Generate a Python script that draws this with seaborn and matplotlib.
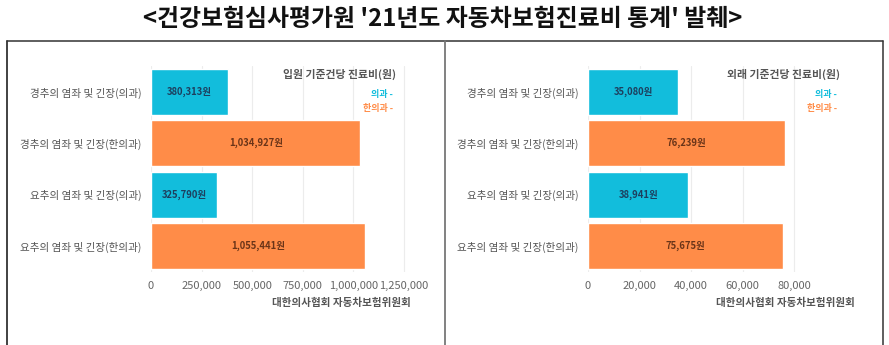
import matplotlib
matplotlib.use("Agg")
import matplotlib.pyplot as plt
import seaborn as sns
import pandas as pd
from matplotlib.lines import Line2D
from matplotlib.ticker import FuncFormatter

sns.set_theme(style="white")
plt.rcParams['font.family'] = ['Noto Sans CJK KR', 'DejaVu Sans']

# ---- data ----
categories = ["경추의 염좌 및 긴장(의과)", "경추의 염좌 및 긴장(한의과)",
              "요추의 염좌 및 긴장(의과)", "요추의 염좌 및 긴장(한의과)"]
types = ["의과", "한의과", "의과", "한의과"]
inpatient = [380313, 1034927, 325790, 1055441]
outpatient = [35080, 76239, 38941, 75675]
in_ticks = [0, 250000, 500000, 750000, 1000000, 1250000]
out_ticks = [0, 20000, 40000, 60000, 80000]
main_title = "<건강보험심사평가원 '21년도 자동차보험진료비 통계' 발췌>"
in_title = "입원 기준건당 진료비(원)"
out_title = "외래 기준건당 진료비(원)"
legend_labels = ["의과 -", "한의과 -"]
source = "대한의사협회 자동차보험위원회"

CYAN = "#12BDDC"
ORANGE = "#FF8C48"
palette = {"의과": CYAN, "한의과": ORANGE}
label_colors = {"의과": "#1d3f5e", "한의과": "#6a3418"}

W, H = 889, 345
fig = plt.figure(figsize=(W / 100, H / 100), dpi=100)
fig.patch.set_facecolor("white")


def px_axes(x0, x1, y0, y1):
    return fig.add_axes([x0 / W, 1 - y1 / H, (x1 - x0) / W, (y1 - y0) / H])


def draw_panel(ax, values, ticks, xmax, title, title_x):
    df = pd.DataFrame({"category": categories, "type": types, "value": values})
    sns.barplot(data=df, x="value", y="category", hue="type", palette=palette,
                dodge=False, width=0.9, legend=False, ax=ax, saturation=1,
                order=categories, hue_order=["의과", "한의과"], zorder=2)
    ax.set_xlim(0, xmax)
    ax.set_ylim(3.5, -0.5)
    ax.set_xticks(ticks)
    ax.xaxis.set_major_formatter(FuncFormatter(lambda v, p: f"{int(v):,}"))
    ax.grid(axis="x", color="#ececec", linewidth=0.8, zorder=0)
    ax.set_axisbelow(True)
    for s in ax.spines.values():
        s.set_visible(False)
    ax.set_xlabel("")
    ax.set_ylabel("")
    ax.tick_params(axis="x", length=0, pad=7, labelsize=8.0, labelcolor="#666666")
    ax.tick_params(axis="y", length=0, pad=7, labelsize=7.6, labelcolor="#555555")
    for i, (v, t) in enumerate(zip(values, types)):
        ax.text(v / 2, i, f"{v:,}원", ha="center", va="center", fontsize=6.8,
                fontweight="bold", color=label_colors[t], zorder=3)
    fig.text(title_x / W, 1 - 74 / H, title, ha="right", va="center",
             fontsize=7.8, fontweight="bold", color="#555555")
    fig.text((title_x - 3) / W, 1 - 95 / H, legend_labels[0], ha="right",
             va="center", fontsize=6.5, fontweight="bold", color=CYAN)
    fig.text((title_x - 3) / W, 1 - 108 / H, legend_labels[1], ha="right",
             va="center", fontsize=6.5, fontweight="bold", color=ORANGE)


ax1 = px_axes(151, 411, 66.4, 271.6)
draw_panel(ax1, inpatient, in_ticks, 1285000, in_title, 396)
fig.text(341 / W, 1 - 303 / H, source, ha="center", va="center",
         fontsize=7.6, fontweight="bold", color="#555555")

ax2 = px_axes(588, 833, 66.4, 271.6)
draw_panel(ax2, outpatient, out_ticks, 95000, out_title, 840)
fig.text(785 / W, 1 - 303 / H, source, ha="center", va="center",
         fontsize=7.6, fontweight="bold", color="#555555")

# title
fig.text(443 / W, 1 - 19 / H, main_title, ha="center", va="center",
         fontsize=17.2, fontweight="bold", color="#111111")

# table-like border
def line(xs, ys, color, lw):
    fig.add_artist(Line2D([x / W for x in xs], [1 - y / H for y in ys],
                          color=color, linewidth=lw, transform=fig.transFigure))

line([6.5, 882.5], [40.5, 40.5], "#333333", 1.1)
line([6.5, 6.5], [40.5, 346], "#333333", 1.3)
line([445, 445], [40.5, 346], "#777777", 1.3)
line([882.5, 882.5], [40.5, 346], "#333333", 1.1)

fig.savefig("out.png", dpi=100, facecolor="white")
